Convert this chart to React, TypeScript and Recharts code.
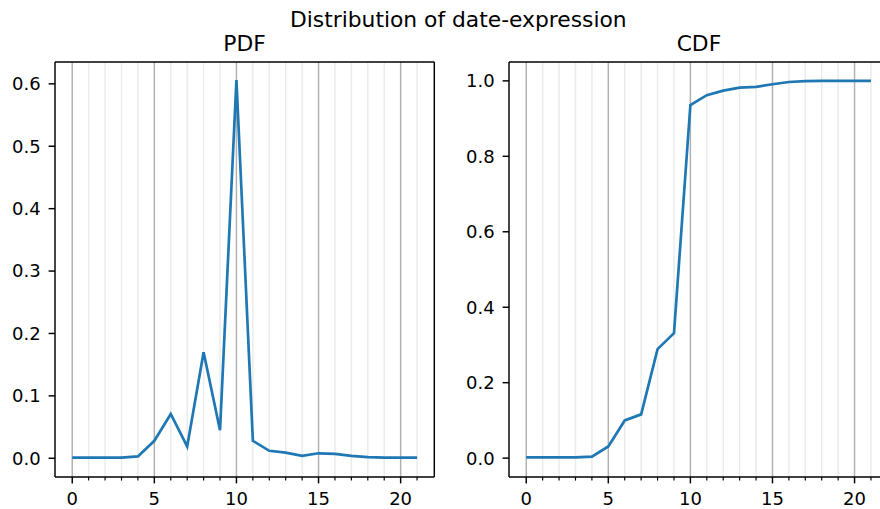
import React from "react";
import { LineChart, Line, XAxis, YAxis, ReferenceLine } from "recharts";

const xValues = [0, 1, 2, 3, 4, 5, 6, 7, 8, 9, 10, 11, 12, 13, 14, 15, 16, 17, 18, 19, 20, 21];
const pdfValues = [0.001, 0.001, 0.001, 0.001, 0.003, 0.028, 0.071, 0.019, 0.170, 0.045, 0.606, 0.028, 0.012, 0.009, 0.004, 0.008, 0.007, 0.004, 0.002, 0.001, 0.001, 0.001];
const cdfValues = [0.002, 0.002, 0.002, 0.002, 0.004, 0.031, 0.100, 0.116, 0.289, 0.331, 0.936, 0.962, 0.974, 0.982, 0.984, 0.991, 0.997, 0.9995, 1.0, 1.0, 1.0, 1.0];
const majorXTicks = [0, 5, 10, 15, 20];
const pdfYTicks = [0.0, 0.1, 0.2, 0.3, 0.4, 0.5, 0.6];
const cdfYTicks = [0.0, 0.2, 0.4, 0.6, 0.8, 1.0];

const suptitle = "Distribution of date-expression";
const pdfTitle = "PDF";
const cdfTitle = "CDF";

const FONT = "DejaVu Sans";
const TICK_FS = 18;
const TITLE_FS = 21.8;
const LW = 1.46;
const X_DOMAIN: [number, number] = [-1.05, 22.05];

const pdfData = xValues.map((x, i) => ({ x, y: pdfValues[i] }));
const cdfData = xValues.map((x, i) => ({ x, y: cdfValues[i] }));

function XTick(props: any) {
  const { x, y, payload } = props;
  const v = payload.value;
  const major = majorXTicks.includes(v);
  return (
    <g>
      <line x1={x} x2={x} y1={y} y2={y + (major ? 6.4 : 3.6)} stroke="#000" strokeWidth={major ? LW : LW * 0.8} />
      {major && (
        <text x={x} y={y + 6.4 + 8.5} dy="0.71em" textAnchor="middle" fill="#000" fontSize={TICK_FS} fontFamily={FONT}>
          {v}
        </text>
      )}
    </g>
  );
}

function Panel({ data, yTicks, yDomain, fmt, width, height, margin }: any) {
  return (
    <LineChart width={width} height={height} data={data} margin={margin}>
      {xValues.filter((v) => v % 5 !== 0).map((v) => (
        <ReferenceLine key={"mi" + v} x={v} stroke="#ebebeb" strokeWidth={LW} />
      ))}
      {majorXTicks.map((v) => (
        <ReferenceLine key={"ma" + v} x={v} stroke="#b0b0b0" strokeWidth={LW} />
      ))}
      <XAxis
        dataKey="x"
        type="number"
        domain={X_DOMAIN}
        ticks={xValues}
        tickSize={0}
        tickMargin={0}
        height={32}
        interval={0}
        axisLine={{ stroke: "#000", strokeWidth: LW }}
        tickLine={false}
        tick={<XTick />}
        allowDataOverflow
      />
      <YAxis
        type="number"
        domain={yDomain}
        ticks={yTicks}
        tickSize={6.4}
        tickMargin={8}
        width={55}
        interval={0}
        tickFormatter={fmt}
        axisLine={{ stroke: "#000", strokeWidth: LW }}
        tickLine={{ stroke: "#000", strokeWidth: LW }}
        tick={{ fill: "#000", fontSize: TICK_FS, fontFamily: FONT }}
        allowDataOverflow
      />
      <Line
        dataKey="y"
        type="linear"
        stroke="#1f77b4"
        strokeWidth={2.7}
        dot={false}
        activeDot={false}
        isAnimationActive={false}
      />
      <ReferenceLine y={yDomain[1]} stroke="#000" strokeWidth={LW} ifOverflow="visible" />
      <ReferenceLine x={X_DOMAIN[1]} stroke="#000" strokeWidth={LW} ifOverflow="visible" />
    </LineChart>
  );
}

export default function App() {
  return (
    <div style={{ position: "absolute", left: 0, top: 0, width: 880, height: 509, background: "#fff", overflow: "hidden", fontFamily: FONT }}>
      <div style={{ position: "absolute", left: 0, top: 0 }}>
        <Panel
          data={pdfData}
          yTicks={pdfYTicks}
          yDomain={[-0.03, 0.635]}
          fmt={(v: number) => v.toFixed(1)}
          width={440}
          height={509}
          margin={{ left: 0, right: 5.7, top: 62, bottom: 0 }}
        />
      </div>
      <div style={{ position: "absolute", left: 454.3, top: 0 }}>
        <Panel
          data={cdfData}
          yTicks={cdfYTicks}
          yDomain={[-0.05, 1.05]}
          fmt={(v: number) => v.toFixed(1)}
          width={440}
          height={509}
          margin={{ left: 0, right: 5.8, top: 62, bottom: 0 }}
        />
      </div>
      <svg width={880} height={509} style={{ position: "absolute", left: 0, top: 0, pointerEvents: "none" }}>
        <text x={458.3} y={26.7} textAnchor="middle" fontFamily={FONT} fontSize={TITLE_FS} fill="#000">{suptitle}</text>
        <text x={244.6} y={50.7} textAnchor="middle" fontFamily={FONT} fontSize={TITLE_FS} fill="#000">{pdfTitle}</text>
        <text x={698.9} y={50.7} textAnchor="middle" fontFamily={FONT} fontSize={TITLE_FS} fill="#000">{cdfTitle}</text>
      </svg>
    </div>
  );
}
